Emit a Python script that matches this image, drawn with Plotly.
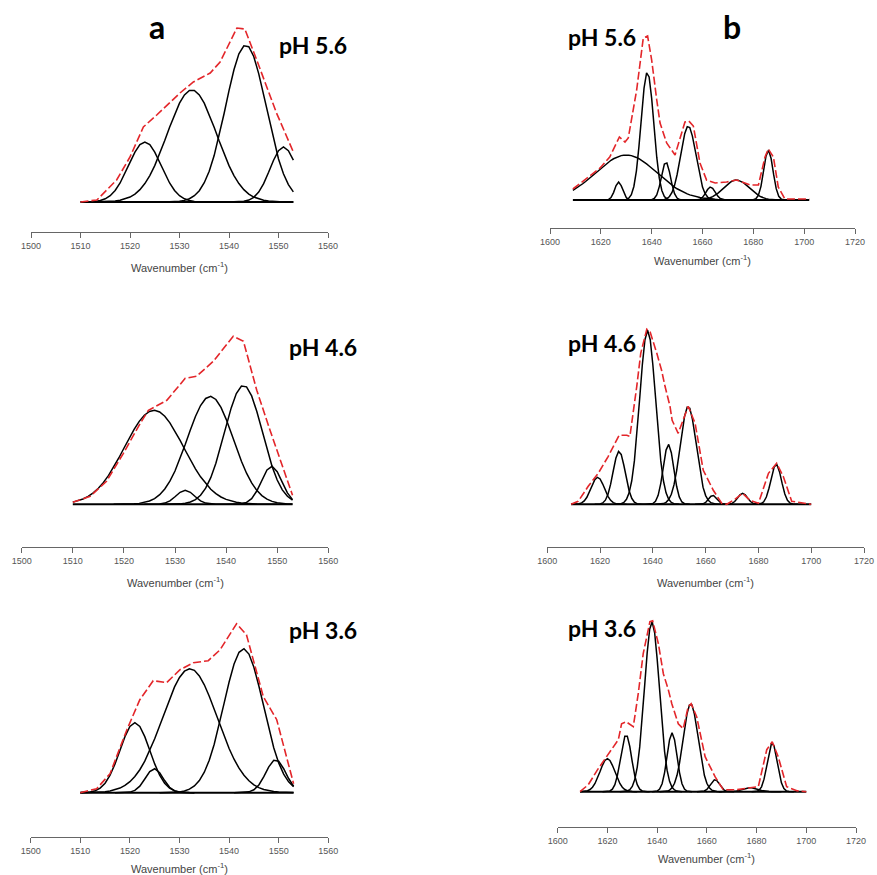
import numpy as np
import plotly.graph_objects as go

# ---------------- data ----------------
# Band-fit components: centre (cm-1), height (a.u.), width sigma (cm-1)
a56_center = [1523.0, 1532.5, 1543.4, 1551.0]
a56_height = [60, 112, 157, 55]
a56_sigma = [3.3, 5.0, 4.1, 2.7]
a56_env_x = [1510, 1513.3, 1517.3, 1520, 1522.7, 1525.4, 1530.1, 1532.8, 1536.2, 1538.2, 1541.6, 1543.2, 1545.6, 1549.6, 1553]
a56_env_y = [0, 2, 22, 45, 75, 87, 109, 120, 129, 140, 174, 173, 142, 89, 50]

a46_center = [1525.9, 1532.0, 1536.9, 1543.4, 1548.9]
a46_height = [94, 14, 108, 119, 38]
a46_sigma = [5.8, 1.8, 4.5, 3.7, 2.0]
a46_env_x = [1510, 1513.4, 1516.6, 1519.9, 1523.2, 1524.8, 1528.4, 1532.0, 1534.2, 1537.5, 1541.4, 1543.4, 1546.0, 1548.6, 1553]
a46_env_y = [2, 8, 23, 51, 81, 94, 104, 126, 128, 143, 168, 163, 114, 74, 9]

a36_center = [1521.0, 1524.9, 1532.1, 1542.9, 1549.4]
a36_height = [70, 24, 124, 144, 33]
a36_sigma = [3.0, 1.8, 5.5, 4.0, 2.0]
a36_env_x = [1510, 1513.3, 1516, 1519.4, 1522, 1524.7, 1527.4, 1530.1, 1532.8, 1535.8, 1538.2, 1541.5, 1543.5, 1546.9, 1549.6, 1553]
a36_env_y = [0, 4, 19, 63, 93, 112, 110, 123, 130, 132, 143, 169, 158, 96, 73, 9]

b56_center = [1630.0, 1627.0, 1638.3, 1645.6, 1654.4, 1663.2, 1673.4, 1685.9]
b56_height = [45, 18, 128, 38, 74, 13, 20, 50]
b56_sigma = [12.0, 1.5, 2.5, 1.8, 3.0, 1.8, 5.0, 1.8]
b56_env_x = [1609, 1614.4, 1619.7, 1623.5, 1627.3, 1629.5, 1630.8, 1634.1, 1636.7, 1638.4, 1640.0, 1642.0, 1643.3,
             1645.9, 1649.2, 1653.1, 1654.6, 1656.4, 1659, 1661.6, 1665, 1669.5, 1673.4, 1678.7, 1682, 1684.6,
             1685.9, 1687.9, 1689.8, 1692.4, 1697, 1702]
b56_env_y = [11, 22, 32, 43, 63, 58, 62, 110, 162, 164, 140, 100, 77,
             57, 45, 78, 79, 74, 37, 20, 17, 18, 20, 15, 15, 43,
             51, 43, 13, 1, 1, 1]

b46_center = [1619.1, 1627.2, 1638.0, 1645.9, 1653.4, 1662.7, 1674.0, 1686.7]
b46_height = [27, 53, 174, 60, 98, 9, 11, 40]
b46_sigma = [2.5, 2.3, 3.0, 2.0, 3.0, 1.5, 1.8, 2.0]
b46_env_x = [1609, 1611.7, 1615.5, 1619.3, 1623.1, 1627.2, 1630.1, 1631.3, 1633.9, 1635.4, 1637.7, 1639.0,
             1641.5, 1643.3, 1644.6, 1646.5, 1647.3, 1649.6, 1653.4, 1656, 1659.1, 1662.9, 1666.1, 1668, 1671.1,
             1674, 1676.8, 1680, 1683.8, 1686.9, 1689.4, 1692.6, 1700]
b46_env_y = [0, 3, 18, 31, 48, 69, 69, 68, 118, 151, 175, 172,
             151, 134, 118, 98, 84, 71, 98, 81, 34, 14, 1, 0, 5,
             11, 4, 1, 31, 41, 28, 3, 0]

b36_center = [1620.0, 1627.5, 1637.9, 1646.0, 1653.5, 1663.3, 1677.4, 1686.3]
b36_height = [33, 57, 170, 59, 88, 12, 4, 49]
b36_sigma = [3.0, 2.2, 3.0, 2.0, 3.0, 1.8, 3.0, 2.0]
b36_env_x = [1609, 1612.3, 1616.3, 1620, 1624.4, 1625.7, 1627.5, 1630.4, 1632.4, 1634.4, 1637.1, 1638.2, 1640.5,
             1642.5, 1644.5, 1645.9, 1648.5, 1650.5, 1652.5, 1653.7, 1655.9, 1659.3, 1663.3, 1666.6, 1672,
             1677.4, 1680.7, 1684.1, 1686.3, 1688.7, 1692.1, 1696.2, 1700]
b36_env_y = [0, 7, 23, 36, 52, 68, 70, 65, 98, 138, 170, 171, 148,
             118, 102, 88, 68, 63, 85, 88, 75, 35, 15, 2, 2,
             4, 5, 42, 50, 35, 5, 1, 0]

a_span = [1510, 1553]
b56_span = [1609, 1702]
b_span = [1609, 1700]
a_ticks = [1500, 1510, 1520, 1530, 1540, 1550, 1560]
b_ticks = [1600, 1620, 1640, 1660, 1680, 1700, 1720]
ph_labels = ["pH 5.6", "pH 4.6", "pH 3.6"]

# ---------------- layout geometry (screen pixels) ----------------
W, H = 877, 875
panels = [
    dict(c=a56_center, h=a56_height, s=a56_sigma, ex=a56_env_x, ey=a56_env_y, span=a_span, ticks=a_ticks,
         px=(31, 328), axis=232, base=202, top=15, ph=ph_labels[0], phpos=(313, 45), title_y=267),
    dict(c=a46_center, h=a46_height, s=a46_sigma, ex=a46_env_x, ey=a46_env_y, span=a_span, ticks=a_ticks,
         px=(21.7, 328.3), axis=546.7, base=504.3, top=315, ph=ph_labels[1], phpos=(323, 346.7), title_y=581.7),
    dict(c=a36_center, h=a36_height, s=a36_sigma, ex=a36_env_x, ey=a36_env_y, span=a_span, ticks=a_ticks,
         px=(30.7, 328.3), axis=837.3, base=792.7, top=605, ph=ph_labels[2], phpos=(323, 630), title_y=868.3),
    dict(c=b56_center, h=b56_height, s=b56_sigma, ex=b56_env_x, ey=b56_env_y, span=b56_span, ticks=b_ticks,
         px=(550, 855), axis=227.7, base=200, top=15, ph=ph_labels[0], phpos=(601.7, 36.7), title_y=260),
    dict(c=b46_center, h=b46_height, s=b46_sigma, ex=b46_env_x, ey=b46_env_y, span=b_span, ticks=b_ticks,
         px=(547.3, 864), axis=546.7, base=504.3, top=315, ph=ph_labels[1], phpos=(601.7, 343.3), title_y=581.7),
    dict(c=b36_center, h=b36_height, s=b36_sigma, ex=b36_env_x, ey=b36_env_y, span=b_span, ticks=b_ticks,
         px=(557.7, 856), axis=826.7, base=791.7, top=605, ph=ph_labels[2], phpos=(601.7, 628.3), title_y=858.3),
]


def fx(x):
    return x / W


def fy(y):
    return 1 - y / H


fig = go.Figure()
annotations = []
lay = {}
for i, p in enumerate(panels, start=1):
    xa = "x" if i == 1 else f"x{i}"
    ya = "y" if i == 1 else f"y{i}"
    lo, hi = p["span"]
    fig.add_trace(go.Scatter(x=[lo, hi], y=[0, 0], mode="lines", line=dict(color="black", width=2),
                             xaxis=xa, yaxis=ya, showlegend=False, hoverinfo="skip"))
    for c, h, s in zip(p["c"], p["h"], p["s"]):
        x0 = max(lo, np.floor(c - 4 * s))
        x1 = min(hi, np.ceil(c + 4 * s))
        xs = np.arange(x0, x1 + 0.001, 1.0)
        ys = h * np.exp(-((xs - c) ** 2) / (2 * s * s))
        fig.add_trace(go.Scatter(x=xs, y=ys, mode="lines", line=dict(color="black", width=1.5),
                                 xaxis=xa, yaxis=ya, showlegend=False, hoverinfo="skip"))
    fig.add_trace(go.Scatter(x=p["ex"], y=p["ey"], mode="lines",
                             line=dict(color="#e3262a", width=1.6, dash="8px,3px"),
                             xaxis=xa, yaxis=ya, showlegend=False, hoverinfo="skip"))
    x0p, x1p = p["px"]
    xkey = "xaxis" if i == 1 else f"xaxis{i}"
    ykey = "yaxis" if i == 1 else f"yaxis{i}"
    lay[xkey] = dict(domain=[fx(x0p), fx(x1p)], range=[p["ticks"][0], p["ticks"][-1]], anchor=ya,
                     tickmode="array", tickvals=p["ticks"], ticks="outside", ticklen=5, tickcolor="#666",
                     showline=True, linecolor="#666", linewidth=1, showgrid=False, zeroline=False,
                     automargin=False, ticklabeloverflow="allow",
                     tickfont=dict(family="Liberation Sans, Arial", size=9, color="#555"))
    lay[ykey] = dict(domain=[fy(p["axis"]), fy(p["top"])],
                     range=[-(p["axis"] - p["base"]), p["base"] - p["top"]], anchor=xa,
                     visible=False, showgrid=False, zeroline=False, automargin=False)
    annotations.append(dict(text="Wavenumber (cm<sup>-1</sup>)", x=fx((x0p + x1p) / 2), y=fy(p["title_y"]),
                            xref="paper", yref="paper", showarrow=False, xanchor="center", yanchor="middle",
                            font=dict(family="Liberation Sans, Arial", size=11, color="#444")))
    annotations.append(dict(text=f"<b>{p['ph']}</b>", x=fx(p["phpos"][0]), y=fy(p["phpos"][1]),
                            xref="paper", yref="paper", showarrow=False, xanchor="center", yanchor="middle",
                            font=dict(family="Lato, Open Sans", size=23, color="black")))

annotations.append(dict(text="<b>a</b>", x=fx(157), y=fy(27), xref="paper", yref="paper", showarrow=False,
                        xanchor="center", yanchor="middle", font=dict(family="Lato, Open Sans", size=32, color="black")))
annotations.append(dict(text="<b>b</b>", x=fx(731.7), y=fy(26.7), xref="paper", yref="paper", showarrow=False,
                        xanchor="center", yanchor="middle", font=dict(family="Lato, Open Sans", size=32, color="black")))

fig.update_layout(width=W, height=H, margin=dict(l=0, r=0, t=0, b=0, pad=0, autoexpand=False), autosize=False,
                  paper_bgcolor="white", plot_bgcolor="white", annotations=annotations, **lay)
fig.write_html("out.html", config={"displayModeBar": False, "staticPlot": True},
               post_script="document.body.style.margin='0';document.body.style.overflow='hidden';")
